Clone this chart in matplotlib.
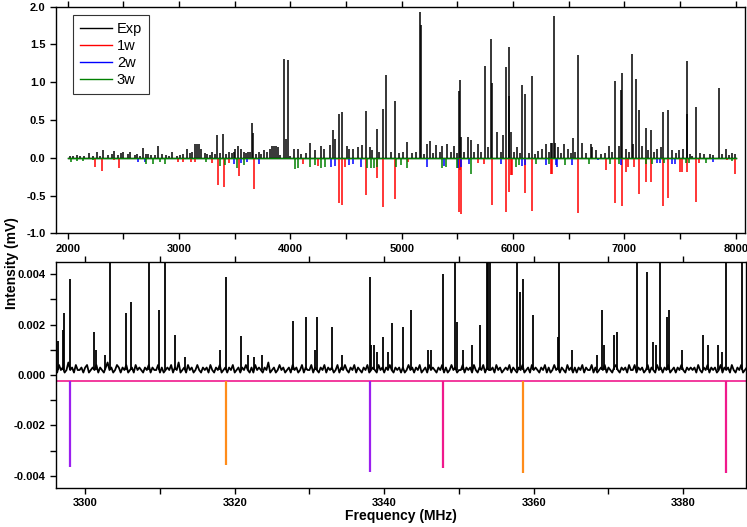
import numpy as np
import matplotlib
matplotlib.use("Agg")
import matplotlib.pyplot as plt
from matplotlib.ticker import MultipleLocator, FormatStrFormatter

plt.rcParams['font.family'] = ['Liberation Sans', 'DejaVu Sans']
plt.rcParams['axes.unicode_minus'] = False

# ====================== 1. DATA ======================
# --- upper panel: full scan, 2000-8000 MHz, stick spectra in mV ---
scan_range = [2000, 8000]

exp_freq = [2020, 2050, 2080, 2110, 2150, 2195, 2230, 2260, 2290, 2321, 2360, 2400,
            2420, 2450, 2480, 2500, 2540, 2560, 2600, 2620, 2650, 2674, 2700, 2720,
            2750, 2780, 2815, 2850, 2880, 2910, 2941, 2980, 3010, 3040, 3070, 3100,
            3115, 3139, 3160, 3178, 3200, 3230, 3250, 3275, 3298, 3320, 3344, 3370,
            3398, 3420, 3448, 3475, 3490, 3507, 3534, 3555, 3580, 3600, 3620, 3640,
            3659, 3668, 3690, 3720, 3740, 3760, 3790, 3813, 3834, 3850, 3870, 3888,
            3910, 3946, 3960, 3976, 4000, 4030, 4066, 4100, 4140, 4180, 4225, 4276,
            4306, 4360, 4381, 4405, 4435, 4465, 4510, 4525, 4564, 4606, 4645, 4684,
            4714, 4730, 4774, 4800, 4831, 4861, 4900, 4936, 4980, 5010, 5050, 5090,
            5130, 5164, 5176, 5200, 5230, 5254, 5280, 5311, 5340, 5365, 5410, 5440,
            5470, 5500, 5515, 5524, 5530, 5560, 5596, 5620, 5650, 5686, 5710, 5746,
            5776, 5800, 5812, 5854, 5890, 5914, 5935, 5962, 5968, 5982, 6010, 6033,
            6060, 6084, 6105, 6140, 6174, 6200, 6225, 6260, 6293, 6320, 6344, 6353,
            6368, 6380, 6400, 6430, 6458, 6490, 6520, 6539, 6560, 6584, 6623, 6660,
            6698, 6712, 6750, 6790, 6830, 6862, 6890, 6913, 6952, 6967, 6982, 7012,
            7040, 7066, 7081, 7102, 7132, 7162, 7192, 7215, 7243, 7270, 7290, 7330,
            7350, 7395, 7430, 7460, 7490, 7525, 7560, 7566, 7590, 7610, 7647, 7680,
            7720, 7770, 7800, 7850, 7880, 7910, 7940, 7970, 7994]
exp_int = [0.03, 0.02, 0.04, 0.02, 0.03, 0.06, 0.03, 0.07, 0.03, 0.10, 0.04, 0.05,
           0.09, 0.04, 0.06, 0.07, 0.05, 0.07, 0.04, 0.05, 0.03, 0.13, 0.05, 0.05,
           0.04, 0.04, 0.15, 0.05, 0.04, 0.03, 0.08, 0.03, 0.04, 0.05, 0.12, 0.06,
           0.08, 0.18, 0.18, 0.18, 0.12, 0.06, 0.05, 0.04, 0.08, 0.05, 0.30, 0.06,
           0.31, 0.05, 0.08, 0.06, 0.07, 0.12, 0.16, 0.12, 0.08, 0.06, 0.07, 0.07,
           0.46, 0.33, 0.05, 0.07, 0.05, 0.10, 0.08, 0.12, 0.15, 0.15, 0.15, 0.14,
           0.04, 1.31, 0.25, 1.29, 0.03, 0.12, 0.12, 0.05, 0.06, 0.20, 0.10, 0.15,
           0.12, 0.17, 0.37, 0.25, 0.58, 0.60, 0.15, 0.12, 0.12, 0.14, 0.17, 0.62,
           0.14, 0.10, 0.38, 0.08, 0.64, 1.09, 0.07, 0.75, 0.06, 0.08, 0.21, 0.06,
           0.07, 1.93, 1.76, 0.05, 0.18, 0.22, 0.06, 0.17, 0.08, 0.15, 0.18, 0.07,
           0.15, 0.06, 0.89, 1.03, 0.28, 0.07, 0.28, 0.23, 0.08, 0.18, 0.07, 1.22,
           0.14, 1.57, 0.99, 0.34, 0.08, 0.30, 1.20, 1.46, 0.82, 0.34, 0.07, 0.14,
           0.06, 0.96, 0.84, 0.06, 1.08, 0.05, 0.09, 0.11, 0.18, 0.07, 0.20, 0.19,
           1.88, 0.19, 0.14, 0.06, 0.18, 0.12, 0.06, 0.26, 0.08, 1.36, 0.20, 0.06,
           0.18, 0.14, 0.10, 0.05, 0.06, 0.15, 0.07, 1.02, 0.15, 0.90, 1.12, 0.12,
           0.07, 1.37, 0.18, 1.04, 0.63, 0.15, 0.39, 0.10, 0.37, 0.08, 0.12, 0.14,
           0.61, 0.63, 0.10, 0.06, 0.10, 0.12, 0.58, 1.28, 0.05, 0.02, 0.67, 0.06,
           0.05, 0.05, 0.04, 0.92, 0.05, 0.11, 0.04, 0.06, 0.05]

w1_freq = [2246, 2312, 2420, 2465, 2995, 3034, 3109, 3145, 3300, 3346, 3400, 3450,
           3535, 3669, 4111, 4250, 4435, 4465, 4490, 4684, 4774, 4831, 4936, 5060,
           5515, 5520, 5530, 5690, 5740, 5812, 5934, 5960, 5982, 5995, 6105, 6174,
           6344, 6353, 6584, 6832, 6913, 6982, 7012, 7035, 7085, 7132, 7192, 7243,
           7350, 7395, 7500, 7520, 7565, 7647, 7672, 7920, 7994]
w1_int = [-0.12, -0.17, -0.03, -0.14, -0.05, -0.06, -0.05, -0.05, -0.07, -0.36, -0.39, -0.07,
          -0.24, -0.41, -0.08, -0.11, -0.60, -0.62, -0.12, -0.49, -0.27, -0.65, -0.55, -0.05,
          -0.72, -0.16, -0.74, -0.07, -0.08, -0.63, -0.72, -0.45, -0.23, -0.23, -0.47, -0.71,
          -0.21, -0.21, -0.73, -0.16, -0.60, -0.64, -0.19, -0.12, -0.12, -0.48, -0.32, -0.32,
          -0.64, -0.53, -0.19, -0.19, -0.19, -0.58, -0.07, -0.03, -0.22]

w2_freq = [2630, 2690, 3170, 3490, 3555, 3610, 3717, 4366, 4405, 4525, 4565, 4639,
           5230, 5380, 5506, 5530, 5605, 5890, 6084, 6105, 6293, 6383, 6398, 6533,
           6760, 6967, 7296, 7318, 7431, 7452, 7800]
w2_int = [-0.05, -0.05, -0.02, -0.08, -0.07, -0.06, -0.08, -0.12, -0.11, -0.09, -0.08, -0.12,
          -0.12, -0.11, -0.14, -0.12, -0.08, -0.08, -0.11, -0.10, -0.10, -0.10, -0.12, -0.10,
          -0.03, -0.10, -0.07, -0.07, -0.08, -0.08, -0.06]

w3_freq = [2030, 2080, 2140, 2230, 2705, 2765, 2825, 2875, 3240, 3370, 3415, 3520,
           3580, 4039, 4066, 4180, 4224, 4278, 4314, 4688, 4726, 4750, 4780, 4950,
           4990, 5050, 5359, 5395, 5500, 5626, 6024, 6054, 6204, 6324, 6468, 6684,
           6873, 6954, 7192, 7252, 7357, 7555, 7585, 7730, 7970]
w3_int = [-0.05, -0.04, -0.04, -0.03, -0.08, -0.08, -0.06, -0.08, -0.05, -0.11, -0.10, -0.14,
          -0.10, -0.15, -0.14, -0.12, -0.10, -0.14, -0.12, -0.14, -0.14, -0.14, -0.12, -0.12,
          -0.10, -0.14, -0.14, -0.12, -0.14, -0.21, -0.12, -0.10, -0.08, -0.08, -0.10, -0.08,
          -0.08, -0.08, -0.08, -0.08, -0.07, -0.07, -0.07, -0.07, -0.04]

# --- lower panel: zoom 3296-3388 MHz ---
noise_start = 3296.0
noise_step = 0.25
# baseline noise, in units of 1e-4 mV
noise = [3, 1, 4, 2, 3, 1, 2, 5, 2, 3, 1, 4, 2, 2, 3, 1, 3, 4, 1, 2, 3, 2, 4, 1, 3, 2, 1, 3, 5, 2, 3,
         1, 2, 4, 3, 1, 3, 2, 4, 1, 2, 3, 1, 4, 2, 3, 2, 1, 3, 2, 4, 1, 3, 2, 2, 4, 1, 3, 1, 2, 3, 2,
         4, 1, 3, 2, 5, 1, 2, 3, 1, 4, 2, 3, 1, 2, 4, 2, 1, 3, 2, 3, 1, 4, 2, 1, 3, 2, 4, 1, 2, 3, 1,
         3, 2, 4, 1, 2, 3, 1, 3, 2, 4, 2, 1, 3, 1, 4, 2, 3, 2, 1, 3, 2, 5, 1, 2, 3, 1, 2, 4, 2, 3, 1,
         2, 3, 1, 4, 2, 3, 1, 2, 4, 1, 3, 2, 2, 4, 1, 3, 2, 1, 3, 2, 4, 1, 3, 2, 3, 1, 2, 4, 1, 3, 2,
         4, 2, 1, 3, 2, 4, 1, 3, 2, 1, 3, 2, 4, 1, 2, 3, 2, 1, 4, 2, 3, 1, 3, 2, 4, 2, 1, 3, 2, 3, 1,
         3, 1, 2, 4, 2, 3, 1, 3, 2, 4, 1, 2, 3, 1, 4, 2, 3, 2, 1, 3, 2, 4, 1, 3, 1, 2, 4, 2, 3, 1, 2,
         2, 4, 1, 3, 2, 3, 1, 4, 2, 1, 3, 2, 4, 1, 3, 2, 2, 3, 1, 4, 2, 3, 1, 2, 3, 2, 4, 1, 3, 2, 1,
         3, 2, 4, 1, 2, 3, 1, 4, 2, 3, 2, 1, 3, 2, 4, 1, 3, 1, 2, 4, 2, 3, 1, 3, 2, 1, 4, 2, 3, 1, 3,
         1, 3, 2, 4, 1, 3, 2, 2, 4, 1, 3, 1, 2, 3, 2, 4, 1, 3, 2, 1, 3, 4, 2, 1, 3, 2, 3, 1, 4, 2, 2,
         4, 1, 3, 2, 3, 1, 2, 4, 1, 3, 2, 1, 4, 2, 3, 1, 3, 2, 4, 1, 2, 3, 1, 3, 2, 4, 2, 1, 3, 2, 3,
         2, 3, 1, 4, 2, 1, 3, 2, 4, 1, 3, 2, 3, 1, 2, 4, 1, 3, 2, 3, 1, 4, 2, 1, 3, 2, 4, 1, 2, 3, 1]

zoom_freq = [3296.3, 3297.0, 3297.2, 3298.0, 3301.2, 3301.5, 3302.7, 3303.3, 3305.5, 3306.1,
             3308.5, 3309.9, 3310.7, 3312.0, 3313.3, 3318.0, 3318.8, 3320.9, 3321.8, 3322.6,
             3323.7, 3327.8, 3329.6, 3330.7, 3331.0, 3333.0, 3334.3, 3338.1, 3338.3, 3338.6,
             3339.1, 3339.9, 3340.5, 3341.1, 3342.5, 3343.6, 3345.8, 3346.3, 3347.8, 3349.5,
             3349.7, 3350.6, 3351.8, 3352.8, 3353.7, 3353.9, 3354.1, 3357.7, 3358.2, 3358.5,
             3359.9, 3363.3, 3363.4, 3365.1, 3368.4, 3369.2, 3369.4, 3370.8, 3371.2, 3373.8,
             3375.1, 3375.9, 3376.3, 3376.9, 3377.8, 3378.1, 3379.9, 3382.7, 3383.3, 3384.6,
             3385.2, 3385.7, 3387.8]
zoom_int = [0.00135, 0.0018, 0.00247, 0.0038, 0.0017, 0.0010, 0.0008, 0.02, 0.00247, 0.0029,
            0.02, 0.0026, 0.02, 0.0016, 0.0007, 0.0010, 0.0039, 0.00156, 0.0008, 0.0007,
            0.0008, 0.00216, 0.0023, 0.0010, 0.0023, 0.0019, 0.0008, 0.0039, 0.0012, 0.0012,
            0.0009, 0.0015, 0.0009, 0.00205, 0.0019, 0.0026, 0.0010, 0.0010, 0.0040, 0.02,
            0.0021, 0.0010, 0.0012, 0.0020, 0.02, 0.02, 0.02, 0.02, 0.0033, 0.0038,
            0.0024, 0.0015, 0.02, 0.0010, 0.0008, 0.0026, 0.0012, 0.0016, 0.0017, 0.02,
            0.0041, 0.0013, 0.0012, 0.02, 0.0023, 0.0026, 0.0010, 0.0016, 0.0012, 0.0012,
            0.0009, 0.02, 0.02]

calc_offset = -0.00024
calc_purple_freq = [3298.0, 3338.1]
calc_purple_int = [-0.00364, -0.00384]
calc_orange_freq = [3318.8, 3358.5]
calc_orange_int = [-0.00355, -0.0039]
calc_pink_freq = [3347.8, 3385.7]
calc_pink_int = [-0.00368, -0.0039]

# ====================== 2. FIGURE ======================
fig = plt.figure(figsize=(7.47, 5.27), dpi=100)
ax1 = fig.add_axes([0.075, 0.5573, 0.9223, 0.4300])
ax2 = fig.add_axes([0.075, 0.0746, 0.9237, 0.4288])

# upper panel
ax1.plot(scan_range, [0, 0], color='black', lw=1.0)
ax1.vlines(exp_freq, 0, exp_int, color='black', lw=1.1)
ax1.vlines(w1_freq, 0, w1_int, color='red', lw=1.1)
ax1.vlines(w2_freq, 0, w2_int, color='blue', lw=1.1)
ax1.vlines(w3_freq, 0, w3_int, color='green', lw=1.1)
ax1.plot(scan_range, [0, 0], color='green', lw=1.0)

ax1.plot([], [], color='black', lw=1.0, label='Exp')
ax1.plot([], [], color='red', lw=1.0, label='1w')
ax1.plot([], [], color='blue', lw=1.0, label='2w')
ax1.plot([], [], color='green', lw=1.0, label='3w')
leg = ax1.legend(loc='upper left', bbox_to_anchor=(0.0247, 0.963), borderaxespad=0,
                 fontsize=10.5, handlelength=2.2, labelspacing=0.2, handletextpad=0.3,
                 borderpad=0.5, fancybox=False, framealpha=1)
leg.get_frame().set_edgecolor('#333333')
leg.get_frame().set_linewidth(0.8)

ax1.set_xlim(1895, 8084)
ax1.set_ylim(-1.0, 2.0)
ax1.xaxis.set_major_locator(MultipleLocator(1000))
ax1.xaxis.set_minor_locator(MultipleLocator(500))
ax1.yaxis.set_major_locator(MultipleLocator(0.5))
ax1.yaxis.set_major_formatter(FormatStrFormatter('%.1f'))

# lower panel
noise_freq = noise_start + noise_step * np.arange(len(noise))
ax2.plot(noise_freq, np.array(noise) * 1e-4, color='black', lw=1.3)
ax2.vlines(zoom_freq, 0.0002, zoom_int, color='black', lw=1.3)

ax2.axhline(calc_offset, color='#F0198C', lw=1.2)
ax2.vlines(calc_purple_freq, calc_offset, calc_purple_int, color='#9B1FF0', lw=1.6)
ax2.vlines(calc_orange_freq, calc_offset, calc_orange_int, color='#FF8C1A', lw=1.6)
ax2.vlines(calc_pink_freq, calc_offset, calc_pink_int, color='#F0198C', lw=1.6)

ax2.set_xlim(3296.1, 3388.4)
ax2.set_ylim(-0.00447, 0.0045)
ax2.xaxis.set_major_locator(MultipleLocator(20))
ax2.xaxis.set_minor_locator(MultipleLocator(10))
ax2.yaxis.set_major_locator(MultipleLocator(0.002))
ax2.yaxis.set_minor_locator(MultipleLocator(0.001))
ax2.yaxis.set_major_formatter(FormatStrFormatter('%.3f'))

for ax in (ax1, ax2):
    ax.tick_params(which='both', direction='out', length=4, width=1,
                   top=True, right=False, labelsize=8)
    for lab in ax.get_xticklabels() + ax.get_yticklabels():
        lab.set_fontweight('bold')
    for sp in ax.spines.values():
        sp.set_linewidth(1.0)

ax2.set_xlabel('Frequency (MHz)', fontsize=10, fontweight='bold', labelpad=1)
fig.text(0.016, 0.50, 'Intensity (mV)', rotation=90, ha='center', va='center',
         fontsize=10, fontweight='bold')

fig.savefig('out.png', dpi=100)
